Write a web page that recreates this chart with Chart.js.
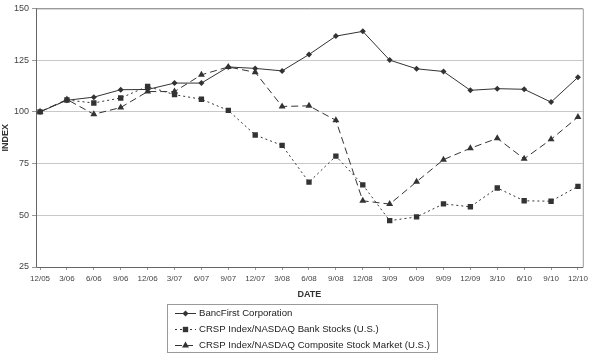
<!DOCTYPE html>
<html>
<head>
<meta charset="utf-8">
<script src="https://cdn.jsdelivr.net/npm/chart.js@4/dist/chart.umd.min.js"></script>
<style>
  html, body { margin: 0; padding: 0; background: #fff; }
  #wrap { width: 592px; height: 354px; position: relative; }
</style>
</head>
<body>
<div id="wrap"><canvas id="c" width="592" height="354"></canvas></div>
<script>
const categories = ['12/05','3/06','6/06','9/06','12/06','3/07','6/07','9/07','12/07','3/08','6/08','9/08','12/08','3/09','6/09','9/09','12/09','3/10','6/10','9/10','12/10'];
const bancFirst = [100, 105.6, 107.1, 110.7, 110.8, 113.9, 113.9, 121.7, 121.0, 119.8, 127.7, 136.6, 138.9, 125.0, 120.8, 119.5, 110.4, 111.2, 110.9, 104.7, 116.7];
const bankStocks = [100, 105.7, 104.3, 106.7, 112.3, 108.3, 106.1, 100.7, 88.8, 83.8, 66.0, 78.6, 64.7, 47.4, 49.2, 55.5, 54.1, 63.2, 57.0, 56.8, 64.0];
const composite = [100, 106.0, 98.8, 102.1, 109.8, 109.8, 117.9, 121.7, 119.1, 102.6, 102.9, 95.9, 57.0, 55.4, 66.2, 76.9, 82.4, 87.2, 77.3, 86.7, 97.5];
const yTicks = [25, 50, 75, 100, 125, 150];
const seriesNames = ['BancFirst Corporation', 'CRSP Index/NASDAQ Bank Stocks (U.S.)', 'CRSP Index/NASDAQ Composite Stock Market (U.S.)'];

const LINE = '#333333';
const FONT = '"Liberation Sans", Arial, sans-serif';
const toXY = arr => arr.map((v, i) => ({ x: i, y: v }));

function drawMarker(ctx, style, x, y, r) {
  ctx.beginPath();
  if (style === 'rectRot') {
    ctx.moveTo(x, y - r); ctx.lineTo(x + r, y); ctx.lineTo(x, y + r); ctx.lineTo(x - r, y);
  } else if (style === 'rect') {
    const s = r * Math.SQRT1_2;
    ctx.rect(x - s, y - s, 2 * s, 2 * s);
  } else if (style === 'triangle') {
    ctx.moveTo(x, y - r);
    ctx.lineTo(x + r * 0.866, y + r * 0.5);
    ctx.lineTo(x - r * 0.866, y + r * 0.5);
  }
  ctx.closePath();
  ctx.fill();
}

const frameLegendPlugin = {
  id: 'frameLegend',
  beforeDatasetsDraw(chart) {
    const { ctx, chartArea: a } = chart;
    ctx.save();
    ctx.lineWidth = 1;
    ctx.strokeStyle = '#9a9a9a';
    ctx.beginPath();
    ctx.moveTo(a.left, a.top + 0.5); ctx.lineTo(a.right + 0.5, a.top + 0.5);
    ctx.lineTo(a.right + 0.5, a.bottom);
    ctx.stroke();
    ctx.strokeStyle = '#666666';
    ctx.beginPath();
    ctx.moveTo(a.left + 0.5, a.top); ctx.lineTo(a.left + 0.5, a.bottom + 0.5);
    ctx.lineTo(a.right + 0.5, a.bottom + 0.5);
    ctx.stroke();
    ctx.restore();
  },
  afterDraw(chart) {
    const { ctx } = chart;
    ctx.save();
    const bx = 167.5, by = 304.5, bw = 270, bh = 48;
    ctx.strokeStyle = '#9a9a9a';
    ctx.lineWidth = 1;
    ctx.strokeRect(bx, by, bw, bh);
    const rows = [313, 329, 345];
    chart.data.datasets.forEach((ds, i) => {
      const y = rows[i] + 0.5;
      ctx.strokeStyle = ds.borderColor;
      ctx.fillStyle = ds.pointBackgroundColor;
      ctx.lineWidth = ds.borderWidth;
      ctx.setLineDash(ds.borderDash || []);
      ctx.beginPath();
      ctx.moveTo(175, y); ctx.lineTo(196, y);
      ctx.stroke();
      ctx.setLineDash([]);
      drawMarker(ctx, ds.pointStyle, 185.5, y, ds.pointRadius);
      ctx.fillStyle = '#222';
      ctx.font = '9.6px ' + FONT;
      ctx.textBaseline = 'middle';
      ctx.textAlign = 'left';
      ctx.fillText(ds.label, 199, y);
    });
    ctx.restore();
  }
};

new Chart(document.getElementById('c'), {
  type: 'line',
  data: {
    datasets: [
      { label: seriesNames[0], data: toXY(bancFirst), borderColor: LINE, borderWidth: 1,
        pointStyle: 'rectRot', pointRadius: 3, pointBackgroundColor: LINE, pointBorderWidth: 0, tension: 0 },
      { label: seriesNames[1], data: toXY(bankStocks), borderColor: LINE, borderWidth: 1, borderDash: [2, 3],
        pointStyle: 'rect', pointRadius: 3.8, pointBackgroundColor: LINE, pointBorderWidth: 0, tension: 0 },
      { label: seriesNames[2], data: toXY(composite), borderColor: LINE, borderWidth: 1, borderDash: [7, 4],
        pointStyle: 'triangle', pointRadius: 4, pointBackgroundColor: LINE, pointBorderWidth: 0, tension: 0 }
    ]
  },
  options: {
    responsive: false,
    animation: false,
    devicePixelRatio: 1,
    layout: { padding: { top: 5, right: 4, bottom: 54, left: 0 } },
    plugins: { legend: { display: false }, tooltip: { enabled: false } },
    scales: {
      x: {
        type: 'linear',
        min: -0.15,
        max: 20.18,
        afterFit(s) { s.height = 33; },
        afterBuildTicks(s) { s.ticks = categories.map((c, i) => ({ value: i })); },
        border: { display: false },
        grid: { drawOnChartArea: false, drawTicks: true, tickLength: 3, color: '#999' },
        ticks: {
          autoSkip: false, maxRotation: 0, minRotation: 0, padding: 4,
          color: '#444',
          font: { family: FONT, size: 8 },
          callback: (v) => categories[v]
        },
        title: { display: true, text: 'DATE', color: '#333', padding: { top: 0, bottom: 0 },
          font: { family: FONT, size: 9, weight: 'bold' } }
      },
      y: {
        min: 25,
        max: 150,
        afterFit(s) { s.width = 36; },
        afterBuildTicks(s) { s.ticks = yTicks.map(v => ({ value: v })); },
        border: { display: false },
        grid: { color: (c) => (c.tick && c.tick.value === 150 ? '#9a9a9a' : '#c8c8c8'), tickLength: 4, tickColor: '#999' },
        ticks: {
          padding: 3, color: '#444',
          font: { family: FONT, size: 9 }
        },
        title: { display: true, text: 'INDEX', color: '#333', padding: { top: 0, bottom: 0 },
          font: { family: FONT, size: 9, weight: 'bold' } }
      }
    }
  },
  plugins: [frameLegendPlugin]
});
</script>
</body>
</html>
